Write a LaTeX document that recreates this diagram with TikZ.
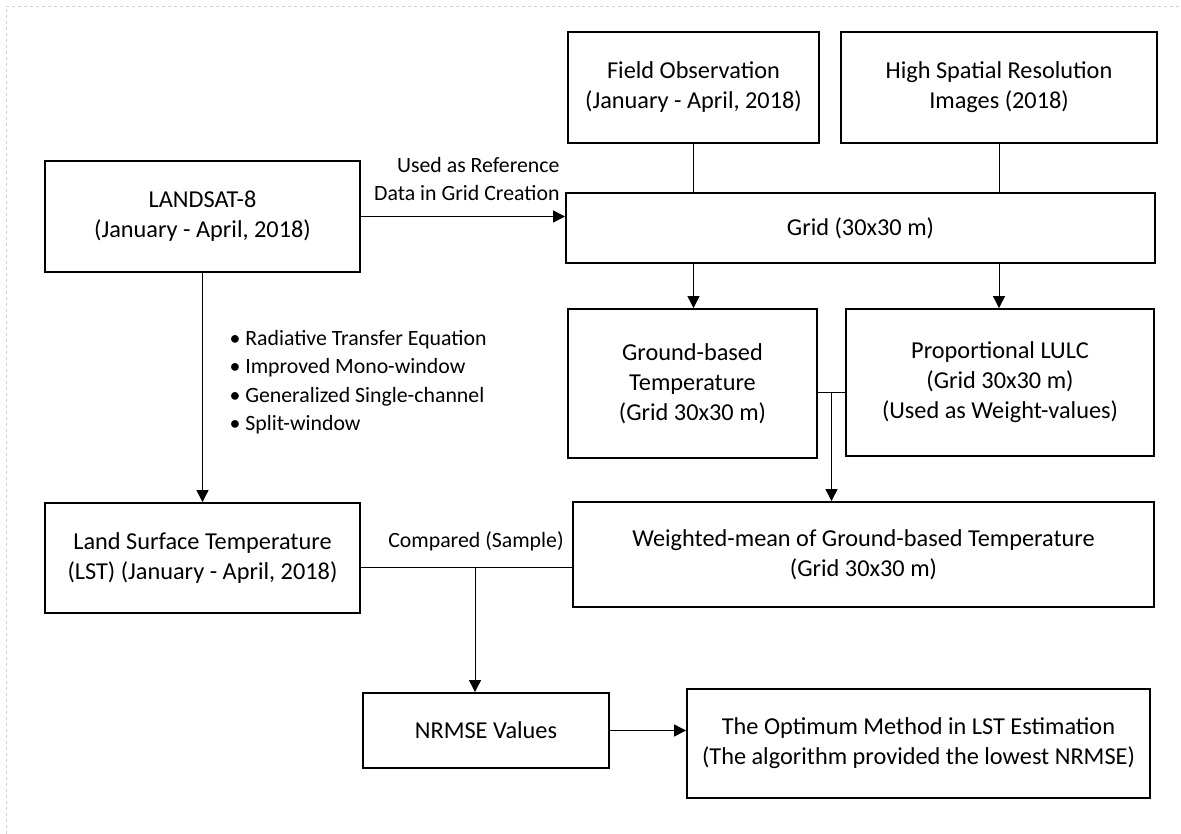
\documentclass[tikz,border=0pt]{standalone}
\usepackage{fontspec}
\setmainfont{Carlito}
\usetikzlibrary{arrows.meta}

\begin{document}
\begin{tikzpicture}[x=1pt,y=-1pt,>={Triangle[length=12pt,width=12pt]},
                    box/.style={rectangle,draw,line width=1.8pt,align=center,
                      inner sep=0pt,font=\fontsize{24.3}{30}\selectfont},
                    note/.style={font=\fontsize{21.8}{28.5}\selectfont},
                    link/.style={line width=0.9pt}]
  \useasboundingbox (0,0) rectangle (1181,834);
  \draw[gray!35,dashed,line width=0.8pt] (6,834) -- (6,6) -- (1181,6);
  % boxes
  \node[box,minimum width=315pt,minimum height=111pt] (landsat) at (202.5,216.5) {LANDSAT-8\\(January - April, 2018)};
  \node[box,minimum width=251pt,minimum height=111pt] (field) at (693.5,87.5) {Field Observation\\(January - April, 2018)};
  \node[box,minimum width=316pt,minimum height=111pt] (hires) at (999,87.5) {High Spatial Resolution\\Images (2018)};
  \node[box,minimum width=589pt,minimum height=70pt] (grid) at (860.5,228) {Grid (30x30 m)};
  \node[box,minimum width=249pt,minimum height=149pt] (ground) at (692.5,383.5) {Ground-based\\Temperature\\(Grid 30x30 m)};
  \node[box,minimum width=308pt,minimum height=147pt] (lulc) at (1000,382.5) {Proportional LULC\\(Grid 30x30 m)\\(Used as Weight-values)};
  \node[box,minimum width=315pt,minimum height=110pt] (lst) at (202.5,558) {Land Surface Temperature\\(LST) (January - April, 2018)};
  \node[box,minimum width=581pt,minimum height=105pt] (wmean) at (863.5,554.5) {Weighted-mean of Ground-based Temperature\\(Grid 30x30 m)};
  \node[box,minimum width=246pt,minimum height=75pt] (nrmse) at (486,730.5) {NRMSE Values};
  \node[box,minimum width=463pt,minimum height=109pt] (optimum) at (918.5,743.5) {The Optimum Method in LST Estimation\\(The algorithm provided the lowest NRMSE)};
  % labels
  \node[note,align=right,anchor=east] (reflabel) at (563,179) {Used as Reference\\Data in Grid Creation};
  \node[note,align=left,anchor=west] (methods) at (226,382) {\textbullet\ Radiative Transfer Equation\\\textbullet\ Improved Mono-window\\\textbullet\ Generalized Single-channel\\\textbullet\ Split-window};
  \node[note] (cmplabel) at (476,541) {Compared (Sample)};
  % junctions
  \coordinate (merge) at (831.5,392);
  \coordinate (cmp) at (475,567);
  % connectors
  \draw[link,->] (landsat.east) -- (grid.west |- landsat.east);
  \draw[link] (field.south) -- (field.south |- grid.north);
  \draw[link] (hires.south) -- (hires.south |- grid.north);
  \draw[link,->] (field.south |- grid.south) -- (field.south |- ground.north);
  \draw[link,->] (hires.south |- grid.south) -- (hires.south |- lulc.north);
  \draw[link] (ground.east |- merge) -- (lulc.west |- merge);
  \draw[link,->] (merge) -- (merge |- wmean.north);
  \draw[link,->] (landsat.south) -- (lst.north);
  \draw[link] (lst.east |- cmp) -- (wmean.west |- cmp);
  \draw[link,->] (cmp) -- (cmp |- nrmse.north);
  \draw[link,->] (nrmse.east) -- (optimum.west |- nrmse.east);
\end{tikzpicture}
\end{document}
